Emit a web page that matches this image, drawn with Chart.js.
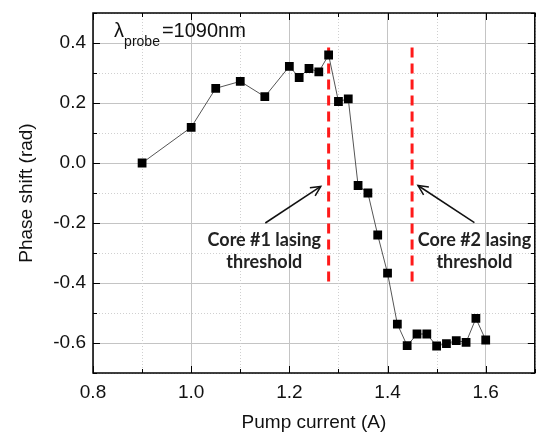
<!DOCTYPE html>
<html lang="en">
<head>
    <meta charset="UTF-8">
    <title>Phase shift vs pump current</title>
    <script src="https://cdn.jsdelivr.net/npm/chart.js"></script>
    <style>
        html, body { margin: 0; padding: 0; background: #ffffff; }
        #wrap { width: 541px; height: 438px; }
    </style>
</head>
<body>
    <div id="wrap"><canvas id="phaseChart" width="541" height="438"></canvas></div>

    <script>
        // values
        const pumpCurrent = [0.90, 1.00, 1.05, 1.10, 1.15, 1.20, 1.22, 1.24, 1.26, 1.28, 1.30, 1.32, 1.34,
                             1.36, 1.38, 1.40, 1.42, 1.44, 1.46, 1.48, 1.50, 1.52, 1.54, 1.56, 1.58, 1.60];
        const phaseShift = [0.000, 0.119, 0.249, 0.272, 0.221, 0.322, 0.285, 0.315, 0.304, 0.360, 0.205, 0.214, -0.075,
                            -0.100, -0.240, -0.367, -0.537, -0.609, -0.570, -0.570, -0.610, -0.602, -0.592, -0.598, -0.518, -0.590];
        const thresholds = [1.28, 1.45];
        const thresholdSpan = [-0.395, 0.398];
        const xMajorTicks = ['0.8', '1.0', '1.2', '1.4', '1.6'];
        const yMajorTicks = ['-0.6', '-0.4', '-0.2', '0.0', '0.2', '0.4'];

        const FONT = '"Liberation Sans", Arial, sans-serif';

        const isMajor = v => Math.abs(Math.round(v * 10)) % 2 === 0;

        const datasets = [{
            label: 'phase',
            data: pumpCurrent.map((x, i) => ({ x: x, y: phaseShift[i] })),
            showLine: true,
            borderColor: '#555555',
            borderWidth: 1,
            pointStyle: 'rect',
            pointRadius: 6.2,
            pointBackgroundColor: '#000000',
            pointBorderColor: '#000000',
            pointBorderWidth: 0,
            order: 1
        }];
        thresholds.forEach(t => {
            datasets.push({
                label: 'threshold',
                data: thresholdSpan.map(y => ({ x: t, y: y })),
                showLine: true,
                borderColor: '#ff1a1a',
                borderWidth: 3,
                borderDash: [10, 6],
                pointRadius: 0,
                order: 2
            });
        });

        // frame, inward ticks, dotted minor grid, labels and arrows
        const decor = {
            id: 'decor',
            beforeDatasetsDraw(chart) {
                const { ctx, chartArea: a, scales: { x, y } } = chart;
                ctx.save();
                ctx.strokeStyle = '#d0d0d0';
                ctx.lineWidth = 1;
                ctx.setLineDash([1, 2]);
                x.ticks.forEach(t => {
                    if (isMajor(t.value)) return;
                    const px = Math.round(x.getPixelForValue(t.value)) + 0.5;
                    ctx.beginPath(); ctx.moveTo(px, a.top); ctx.lineTo(px, a.bottom); ctx.stroke();
                });
                y.ticks.forEach(t => {
                    if (isMajor(t.value)) return;
                    const py = Math.round(y.getPixelForValue(t.value)) + 0.5;
                    ctx.beginPath(); ctx.moveTo(a.left, py); ctx.lineTo(a.right, py); ctx.stroke();
                });
                ctx.restore();
            },
            afterDraw(chart) {
                const { ctx, chartArea: a, scales: { x, y } } = chart;
                ctx.save();
                ctx.strokeStyle = '#000000';
                ctx.lineWidth = 1.5;
                ctx.setLineDash([]);
                ctx.strokeRect(a.left, a.top, a.right - a.left, a.bottom - a.top);

                ctx.lineWidth = 1;
                x.ticks.forEach(t => {
                    const px = Math.round(x.getPixelForValue(t.value)) + 0.5;
                    const len = isMajor(t.value) ? 7 : 4;
                    ctx.beginPath();
                    ctx.moveTo(px, a.bottom); ctx.lineTo(px, a.bottom - len);
                    ctx.moveTo(px, a.top); ctx.lineTo(px, a.top + len);
                    ctx.stroke();
                });
                y.ticks.forEach(t => {
                    const py = Math.round(y.getPixelForValue(t.value)) + 0.5;
                    const len = isMajor(t.value) ? 7 : 4;
                    ctx.beginPath();
                    ctx.moveTo(a.left, py); ctx.lineTo(a.left + len, py);
                    ctx.moveTo(a.right, py); ctx.lineTo(a.right - len, py);
                    ctx.stroke();
                });

                // lambda label
                ctx.fillStyle = '#111111';
                ctx.textBaseline = 'alphabetic';
                ctx.textAlign = 'left';
                let lx = x.getPixelForValue(0.843);
                const ly = y.getPixelForValue(0.419);
                ctx.font = '20px ' + FONT;
                ctx.fillText('λ', lx, ly);
                lx += ctx.measureText('λ').width;
                ctx.font = '14px ' + FONT;
                ctx.fillText('probe', lx, ly + 9);
                lx += ctx.measureText('probe').width;
                ctx.font = '20px ' + FONT;
                ctx.fillText('=1090nm', lx + 2, ly);

                // threshold captions
                ctx.font = 'bold 18px Lato, "Open Sans", sans-serif';
                ctx.textAlign = 'center';
                ctx.textBaseline = 'middle';
                ctx.fillStyle = '#222222';
                [[1.149, 'Core #1 lasing'], [1.577, 'Core #2 lasing']].forEach(([v, s]) => {
                    const cx = x.getPixelForValue(v);
                    ctx.fillText(s, cx, y.getPixelForValue(-0.256));
                    ctx.fillText('threshold', cx, y.getPixelForValue(-0.329));
                });

                // arrows
                const arrows = [[1.151, -0.200, 1.264, -0.078], [1.577, -0.199, 1.462, -0.075]];
                ctx.strokeStyle = '#111111';
                ctx.lineWidth = 1.5;
                arrows.forEach(([x0, y0, x1, y1]) => {
                    const p0 = [x.getPixelForValue(x0), y.getPixelForValue(y0)];
                    const p1 = [x.getPixelForValue(x1), y.getPixelForValue(y1)];
                    const ang = Math.atan2(p1[1] - p0[1], p1[0] - p0[0]);
                    ctx.beginPath();
                    ctx.moveTo(p0[0], p0[1]); ctx.lineTo(p1[0], p1[1]);
                    ctx.stroke();
                    ctx.beginPath();
                    ctx.moveTo(p1[0] - 11 * Math.cos(ang - 0.45), p1[1] - 11 * Math.sin(ang - 0.45));
                    ctx.lineTo(p1[0], p1[1]);
                    ctx.lineTo(p1[0] - 11 * Math.cos(ang + 0.45), p1[1] - 11 * Math.sin(ang + 0.45));
                    ctx.stroke();
                });
                ctx.restore();
            }
        };

        new Chart(document.getElementById('phaseChart'), {
            type: 'scatter',
            data: { datasets: datasets },
            plugins: [decor],
            options: {
                responsive: false,
                animation: false,
                layout: { padding: { top: 13, right: 5, left: 0, bottom: 0 } },
                plugins: { legend: { display: false }, tooltip: { enabled: false } },
                scales: {
                    x: {
                        type: 'linear',
                        min: 0.8,
                        max: 1.7,
                        afterFit: s => { s.height = 65; s.paddingLeft = 0; s.paddingRight = 0; },
                        ticks: {
                            stepSize: 0.1,
                            autoSkip: false,
                            maxRotation: 0,
                            padding: 8,
                            color: '#111111',
                            font: { family: FONT, size: 19 },
                            callback: v => {
                                const s = v.toFixed(1);
                                return xMajorTicks.includes(s) ? s : '';
                            }
                        },
                        grid: {
                            drawTicks: false,
                            color: c => (c.tick && isMajor(c.tick.value)) ? '#c4c4c4' : 'rgba(0,0,0,0)'
                        },
                        border: { display: false },
                        title: {
                            display: true,
                            text: 'Pump current (A)',
                            color: '#111111',
                            font: { family: FONT, size: 19 },
                            padding: { top: 0, bottom: 4 }
                        }
                    },
                    y: {
                        type: 'linear',
                        min: -0.7,
                        max: 0.5,
                        afterFit: s => { s.width = 93; s.paddingTop = 0; s.paddingBottom = 0; },
                        ticks: {
                            stepSize: 0.1,
                            autoSkip: false,
                            padding: 7,
                            color: '#111111',
                            font: { family: FONT, size: 19 },
                            callback: v => {
                                const s = (Math.abs(v) < 1e-9 ? 0 : v).toFixed(1);
                                return yMajorTicks.includes(s) ? s : '';
                            }
                        },
                        grid: {
                            drawTicks: false,
                            color: c => (c.tick && isMajor(c.tick.value)) ? '#c4c4c4' : 'rgba(0,0,0,0)'
                        },
                        border: { display: false },
                        title: {
                            display: true,
                            text: 'Phase shift (rad)',
                            color: '#111111',
                            font: { family: FONT, size: 19 },
                            padding: { top: 15, bottom: 0 }
                        }
                    }
                }
            }
        });
    </script>
</body>
</html>
